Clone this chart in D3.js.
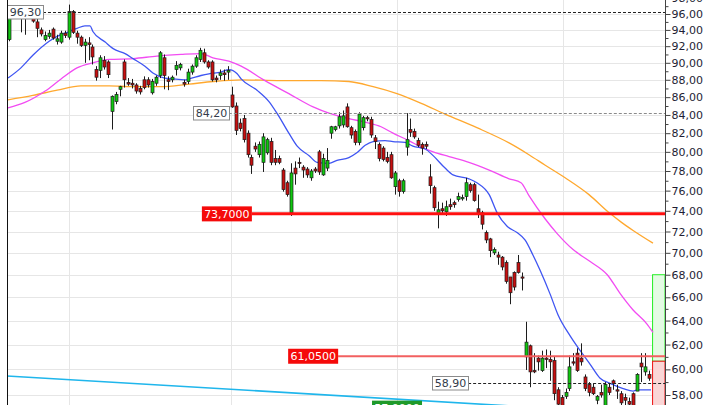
<!DOCTYPE html>
<html><head><meta charset="utf-8">
<script src="https://cdn.jsdelivr.net/npm/d3@7"></script>
<style>html,body{margin:0;padding:0;background:#fff}svg{display:block}</style>
</head><body><svg id="c" width="720" height="405"></svg>
<script>
// ---------- DATA ----------
const opens = [92.8,95.8,96.1,95.8,95.7,95.9,95.5,95.0,94.0,92.8,
93.2,94.1,92.6,92.5,93.6,93.1,96.3,93.6,93.1,92.1,
92.4,91.9,89.2,89.1,90.3,90.1,84.4,85.5,86.9,90.1,
87.7,87.6,87.4,87.0,88.0,88.0,86.5,87.6,88.5,90.6,
88.0,88.0,89.2,89.4,87.7,87.8,88.9,89.6,90.4,91.2,
90.1,90.1,88.2,88.5,88.8,88.9,
86.25,85.0,83.1,83.6,82.0,79.4,80.6,79.7,78.9,79.9,
81.1,79.3,79.3,78.1,76.8,73.8,78.3,78.9,78.4,78.2,
77.3,78.2,80.0,77.6,78.3,82.0,82.4,82.8,82.9,84.9,
82.6,82.2,81.0,82.6,83.7,83.5,81.5,80.8,80.4,79.4,
79.7,76.4,77.0,75.9,80.5,82.4,82.2,81.2,80.8,80.8,
77.4,76.3,73.7,74.2,73.9,74.6,74.8,75.1,75.2,75.4,
76.6,76.6,74.2,73.8,71.9,71.3,70.0,69.8,69.6,69.1,
67.8,68.2,69.1,67.8,61.0,61.9,59.9,60.9,59.9,60.9,
60.8,60.7,58.4,57.8,57.9,58.5,60.6,61.3,60.9,59.4,
58.8,58.6,57.6,58.2,57.2,58.6,59.1,58.4,58.1,57.8,
57.5,58.1,58.3,60.5,59.8,59.6];
const highs = [95.6,96.3,96.4,96.0,96.0,96.2,95.7,95.5,94.3,93.8,
94.0,94.3,93.4,93.9,93.9,97.2,96.5,93.9,93.3,92.9,
93.1,92.2,89.6,90.9,90.8,90.3,86.2,86.6,87.3,90.4,
88.2,88.1,87.6,87.3,88.4,88.3,88.1,88.5,91.4,91.0,
88.4,88.5,90.2,90.0,88.0,89.3,89.8,90.9,91.8,91.7,
90.3,90.3,88.5,89.2,89.2,89.6,
87.2,85.4,83.6,84.0,82.3,79.7,81.0,81.1,82.0,81.5,
81.5,80.2,79.6,78.3,77.0,78.8,79.0,79.4,78.6,78.4,
78.2,78.4,80.2,79.8,80.4,82.8,82.8,84.3,84.5,85.3,
82.8,82.4,84.3,83.9,83.9,83.8,81.8,81.0,80.6,80.0,
80.0,78.0,77.2,77.2,84.2,83.6,82.5,81.5,81.0,81.1,
78.7,76.5,74.9,74.8,75.0,75.2,75.0,75.8,75.6,77.3,
76.8,76.8,75.6,74.0,72.1,71.4,70.5,70.1,69.7,69.3,
67.8,68.3,69.8,68.2,63.9,62.0,61.3,61.1,61.5,61.6,
61.5,61.0,58.6,58.0,58.5,61.1,61.3,61.7,62.1,59.6,
59.0,58.9,58.0,58.8,59.0,58.9,59.2,58.8,58.3,58.1,
57.8,58.2,59.7,61.3,61.3,59.9];
const lows = [92.6,95.75,95.75,93.7,93.4,95.75,94.9,93.1,93.2,92.6,
92.9,92.8,92.2,92.3,93.0,92.8,93.5,92.3,91.9,90.0,
90.3,89.8,87.9,88.2,89.2,88.2,82.4,85.2,86.1,87.1,
87.3,87.0,86.4,86.3,86.9,87.1,86.3,87.3,88.2,86.9,
86.8,87.7,88.5,89.1,87.2,87.5,88.6,89.4,90.1,89.9,
89.3,87.8,87.7,88.0,87.9,88.0,
84.8,81.8,82.2,81.0,79.4,77.7,80.0,79.4,77.9,79.7,
78.6,78.6,78.7,75.9,75.4,73.5,76.6,78.3,77.3,77.3,
77.0,77.8,77.6,77.5,78.0,81.4,82.2,82.5,82.6,82.6,
81.4,80.7,80.7,82.3,83.3,81.5,80.3,79.0,79.0,78.8,
77.2,75.6,75.4,75.7,79.6,81.6,81.4,80.5,79.7,80.3,
75.7,74.0,72.3,73.7,73.5,74.1,74.3,74.9,75.0,75.0,
75.8,74.9,73.3,72.2,70.9,69.6,69.8,68.9,68.4,67.2,
65.4,66.6,68.1,66.6,59.95,58.6,59.7,59.9,59.8,60.1,
59.1,57.6,57.0,56.8,57.7,58.3,60.3,59.8,60.3,58.3,
57.9,58.0,57.3,57.8,57.0,58.0,58.4,57.7,57.2,57.0,
57.0,57.0,58.3,59.0,59.5,59.1];
const closes = [95.5,96.1,95.9,95.7,95.8,95.8,95.1,94.2,93.5,93.3,
93.6,93.0,92.9,93.6,93.3,96.3,93.7,93.1,92.1,92.5,
92.2,90.7,88.3,90.6,89.5,88.6,86.1,86.3,87.2,88.0,
87.5,87.4,86.7,86.6,87.1,87.4,87.8,88.3,91.2,88.5,
87.8,88.3,89.7,89.8,87.5,88.9,89.6,90.6,91.5,90.1,
89.5,88.0,88.0,88.8,88.6,89.1,
84.9,82.3,82.5,81.3,79.7,78.6,80.3,80.8,81.6,81.3,
78.9,78.9,78.9,76.1,75.6,77.8,77.7,78.8,78.1,77.6,
78.0,78.0,77.9,79.3,79.1,82.7,82.7,83.8,83.9,82.7,
81.8,81.0,84.1,83.7,83.6,81.8,81.1,79.3,79.2,79.0,
77.3,77.8,75.9,77.0,81.3,82.1,81.6,80.7,80.4,80.6,
76.5,74.3,74.1,74.0,74.4,74.4,74.6,75.4,75.3,76.8,
76.0,75.0,73.8,72.7,71.2,70.2,70.3,69.6,68.7,67.4,
66.4,66.9,68.2,67.7,62.2,59.8,59.8,60.6,60.9,60.8,
60.6,58.1,57.3,57.0,58.2,60.2,60.5,59.9,60.6,58.5,
58.2,58.1,57.9,58.0,58.8,58.2,58.9,58.3,57.4,57.6,
57.3,57.1,59.6,60.2,60.2,59.3];

// moving averages: [candle index, price]
const maFast = [[-0.25,88.2],[3,89.4],[6,90.9],[10.1,92.6],[12.1,93.2],[15.1,93.8],[17.1,94.2],[19.1,94.5],[20.4,94.5],[21.1,93.8],
[24.2,92.5],[26.2,91.7],[29.2,91.1],[31.2,90.5],[34.2,89.6],[36.2,88.8],[39.2,88.2],[41.3,88.1],[44.3,88.0],[45.3,88.1],
[48.3,88.5],[50.3,88.7],[53.3,88.9],[55.3,89.2],[57.4,88.7],[58.4,88.1],[62.4,86.8],[65.4,85.5],[67.4,84.2],[70.4,82.0],
[72.5,80.6],[75.5,79.6],[77.5,78.9],[80.5,78.8],[82.5,79.1],[85.5,79.4],[87.5,79.9],[89.6,80.7],[91.6,81.1],[94.6,81.2],
[96.6,81.1],[99.6,81.0],[101.6,80.6],[104.7,80.3],[106.7,79.6],[109.7,78.3],[111.7,77.6],[115.7,77.2],[117.7,76.8],[120.8,75.6],
[122.8,73.8],[125.3,72.5],[127.8,71.9],[129.8,71.2],[131.8,69.8],[133.6,68.4],[136.1,66.3],[138.1,64.5],[141.2,62.7],[143.7,61.5],
[146.2,60.4],[148.7,59.3],[151.2,58.9],[154.5,58.5],[157.0,58.3],[158.2,58.4],[161.5,58.4]];
const maMid = [[-0.25,84.8],[4,85.4],[9.1,86.7],[13.1,88.1],[17.1,89.4],[21.1,90.0],[25.2,90.4],[31.2,90.5],[37.2,90.8],[43.3,91.0],
[48.3,91.1],[51.3,90.6],[55.3,90.2],[58.4,89.6],[64.4,87.9],[70.4,86.4],[76.5,84.9],[80.5,84.2],[85.5,83.6],[89.6,83.2],
[93.6,82.7],[96.6,82.0],[100.6,81.2],[103.7,80.5],[106.7,80.0],[110.7,79.5],[115.7,78.9],[120.8,78.1],[125.8,77.2],[128.8,76.8],
[130.8,75.5],[134.9,73.2],[137.9,71.8],[141.9,70.3],[146.2,69.2],[150.5,68.0],[153.8,66.3],[157.0,64.9],[160.5,63.7],[162.0,63.0]];
const maSlow = [[-0.25,85.7],[6,86.2],[12.1,86.8],[18.1,87.3],[25.2,87.3],[31.2,87.2],[38.2,87.2],[45.3,87.5],[51.3,87.8],[58.4,88.0],
[68.4,87.9],[78.5,87.9],[85.5,87.8],[91.6,87.2],[97.6,86.4],[103.7,85.3],[109.7,84.1],[117.7,82.6],[125.8,80.95],[130.8,79.7],
[134.9,78.6],[139.9,77.3],[145.9,75.6],[151.0,73.8],[154.0,72.9],[157.0,72.1],[162.0,70.9]];

const trendLine = [[-0.5,59.48],[140,56.92]];
const priceTicks = [58,60,62,64,66,68,70,72,74,76,78,80,82,84,86,88,90,92,94,96,98];
const minorTicks = [57,59,61,63,65,67,69,71,73,75,77,79,81,83,85,87,89,91,93,95,97];
const monthGridIdx = [15.1,55.8,97.6,139.4];

const dashLevels = [96.30, 84.20, 58.90];
const dashStartIdx = [8.55, 55.3, 115.5];
const dashLabels = ["96,30","84,20","58,90"];
const redLevels = [73.70, 61.05];
const redStartIdx = [61.1, 82.8];
const redLabels = ["73,7000","61,0500"];
const greenLevel = 57.0, greenStartIdx = 103.9, greenLabel = "57,0000";
const projTop = 68.0, projMid = 60.65, projBottom = 55.0, projStartIdx = 161.9;

// ---------- DRAW ----------
const svg = d3.select("#c");
const plotL = 7, plotR = 665, H = 405;
const x = d3.scaleLinear().domain([0,161]).range([9,649]);
const y = d3.scaleLog().domain([58,96]).range([395,14]);
const font = "DejaVu Sans, Verdana, sans-serif";

svg.append("rect").attr("x",0).attr("y",0).attr("width",720).attr("height",H).attr("fill","#fff");
svg.append("defs").append("clipPath").attr("id","clip")
  .append("rect").attr("x",plotL).attr("y",0).attr("width",plotR-plotL).attr("height",H);

const g = svg.append("g").attr("clip-path","url(#clip)");

// grid
g.selectAll(".hg").data(priceTicks).enter().append("line")
  .attr("x1",plotL).attr("x2",plotR)
  .attr("y1",d=>Math.round(y(d))+0.5).attr("y2",d=>Math.round(y(d))+0.5)
  .attr("stroke","#e6e6e6").attr("stroke-width",1);
g.selectAll(".vg").data(monthGridIdx).enter().append("line")
  .attr("x1",d=>Math.round(x(d))+0.5).attr("x2",d=>Math.round(x(d))+0.5)
  .attr("y1",0).attr("y2",H)
  .attr("stroke","#e6e6e6").attr("stroke-width",1);

// projection boxes
g.append("rect").attr("x",x(projStartIdx)).attr("y",y(projTop))
  .attr("width",plotR-x(projStartIdx)).attr("height",y(projMid)-y(projTop))
  .attr("fill","#e4fbe4").attr("stroke","#22ee22").attr("stroke-width",1);
g.append("rect").attr("x",x(projStartIdx)).attr("y",y(projMid))
  .attr("width",plotR-x(projStartIdx)).attr("height",y(projBottom)-y(projMid))
  .attr("fill","#fad6d6").attr("stroke","#ee1111").attr("stroke-width",1);

// trend line
const line = d3.line().x(d=>x(d[0])).y(d=>y(d[1]));
g.append("path").attr("d",line(trendLine)).attr("fill","none")
  .attr("stroke","#1fb6ec").attr("stroke-width",1.6);

// moving averages
const maLine = d3.line().x(d=>x(d[0])).y(d=>y(d[1])).curve(d3.curveMonotoneX);
g.append("path").attr("d",maLine(maSlow)).attr("fill","none").attr("stroke","#ffa82e").attr("stroke-width",1.3);
g.append("path").attr("d",maLine(maMid)).attr("fill","none").attr("stroke","#f24cf2").attr("stroke-width",1.3);
g.append("path").attr("d",maLine(maFast)).attr("fill","none").attr("stroke","#3f55f2").attr("stroke-width",1.3);

// candles
const idx = d3.range(opens.length);
const cg = g.append("g");
cg.selectAll(".wick").data(idx).enter().append("line")
  .attr("x1",i=>Math.round(x(i))+0.5).attr("x2",i=>Math.round(x(i))+0.5)
  .attr("y1",i=>y(highs[i])).attr("y2",i=>y(lows[i]))
  .attr("stroke","#1c1c1c").attr("stroke-width",1);
cg.selectAll(".body").data(idx).enter().append("rect")
  .attr("x",i=>Math.round(x(i))-1)
  .attr("width",3)
  .attr("y",i=>y(Math.max(opens[i],closes[i])))
  .attr("height",i=>Math.max(1.2, y(Math.min(opens[i],closes[i]))-y(Math.max(opens[i],closes[i]))))
  .attr("fill",i=>closes[i]>=opens[i]?"#10c810":"#c81010")
  .attr("stroke","#1c1c1c").attr("stroke-width",0.7);

// dashed levels
dashLevels.forEach((v,k)=>{
  const yy = Math.round(y(v))+0.5, xs = x(dashStartIdx[k]);
  g.append("line").attr("x1",xs).attr("x2",plotR).attr("y1",yy).attr("y2",yy)
    .attr("stroke",k===1?"#8a8a8a":"#222").attr("stroke-width",1).attr("stroke-dasharray","3,2");
  g.append("rect").attr("x",Math.round(xs)-36+0.5).attr("y",yy-7).attr("width",36).attr("height",13.5)
    .attr("fill","#fff").attr("stroke","#8a8a8a").attr("stroke-width",1);
  g.append("text").attr("x",Math.round(xs)-18+0.5).attr("y",yy).attr("dy","0.36em")
    .attr("text-anchor","middle").attr("font-family",font).attr("font-size",11)
    .attr("fill","#333b4a").text(dashLabels[k]);
});

// red levels
redLevels.forEach((v,k)=>{
  const yy = y(v), xs = x(redStartIdx[k]);
  g.append("line").attr("x1",xs).attr("x2",plotR).attr("y1",yy).attr("y2",yy)
    .attr("stroke",k===0?"#ff1010":"#f26060").attr("stroke-width",k===0?3:2);
  g.append("rect").attr("x",xs-50).attr("y",yy-7.5).attr("width",50).attr("height",15)
    .attr("fill","#f50a0a");
  g.append("text").attr("x",xs-25).attr("y",yy).attr("dy","0.36em")
    .attr("text-anchor","middle").attr("font-family",font).attr("font-size",11)
    .attr("fill","#fff").text(redLabels[k]);
});

// green level label (mostly below view, as in the reference)
{
  const yy = y(greenLevel), xs = x(greenStartIdx);
  g.append("rect").attr("x",xs-50).attr("y",yy-7.5).attr("width",50).attr("height",15).attr("fill","#1f9a2a");
  g.append("text").attr("x",xs-25).attr("y",yy).attr("dy","0.36em")
    .attr("text-anchor","middle").attr("font-family",font).attr("font-size",11)
    .attr("fill","#fff").text(greenLabel);
}

// frame lines
svg.append("line").attr("x1",plotL+0.5).attr("x2",plotL+0.5).attr("y1",0).attr("y2",H)
  .attr("stroke","#111").attr("stroke-width",1);
svg.append("line").attr("x1",plotR+0.5).attr("x2",plotR+0.5).attr("y1",0).attr("y2",H)
  .attr("stroke","#444").attr("stroke-width",1);

// right axis
const fmt = d => d3.format(".2f")(d).replace(".",",");
const ax = svg.append("g").attr("transform",`translate(${plotR+0.5},0)`)
  .call(d3.axisRight(y).tickValues(priceTicks).tickFormat(fmt).tickSize(5).tickPadding(1));
ax.select(".domain").remove();
ax.selectAll("line").attr("stroke","#444");
ax.selectAll("text").attr("font-family",font).attr("font-size",11).attr("fill","#1e1e34");
const ax2 = svg.append("g").attr("transform",`translate(${plotR+0.5},0)`)
  .call(d3.axisRight(y).tickValues(minorTicks).tickFormat("").tickSize(3));
ax2.select(".domain").remove();
ax2.selectAll("line").attr("stroke","#444");
</script>
</body></html>
